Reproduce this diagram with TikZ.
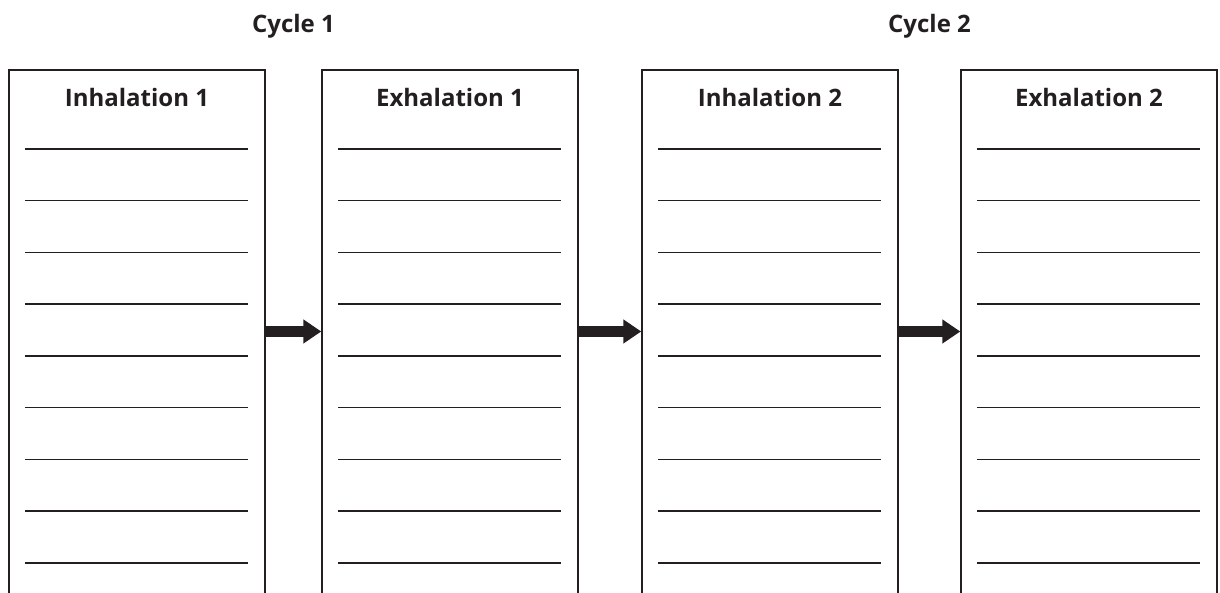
\documentclass[tikz,border=0pt]{standalone}
\usepackage{fontspec}
\setmainfont{Open Sans}
\usetikzlibrary{shapes,arrows,arrows.meta,positioning,calc}

\definecolor{ink}{HTML}{231F20}

\tikzset{
  phase/.style={rectangle,minimum width=256pt,minimum height=523pt,inner sep=0pt},
  phasetitle/.style={font=\fontsize{24}{28}\selectfont\bfseries,text=ink},
  fat/.style={-{Triangle[length=18pt,width=23pt]},line width=11pt,ink,shorten >=0.5pt}
}

\begin{document}
\begin{tikzpicture}[x=1pt,y=1pt]
    \useasboundingbox (0,0) rectangle (1220,593);

    \node[phase] (in1) at (137,261.5) {};
    \node[phase] (ex1) at (450,261.5) {};
    \node[phase] (in2) at (770,261.5) {};
    \node[phase] (ex2) at (1089,261.5) {};

    % open boxes, the bottom runs off the page
    \foreach \b/\t in {in1/Inhalation 1,ex1/Exhalation 1,in2/Inhalation 2,ex2/Exhalation 2} {
        \draw[ink,line width=1.5pt] (\b.south west) |- (\b.north east) -- (\b.south east);
        \node[phasetitle] at ($(\b.north)+(0,-28)$) {\t};
        \foreach \i in {0,...,8}
            \draw[ink,line width=1.5pt] ($(\b.north west)+(16,-79-51.75*\i)$) -- ($(\b.north east)+(-17,-79-51.75*\i)$);
    }

    \draw[fat] (in1) -- (ex1);
    \draw[fat] (ex1) -- (in2);
    \draw[fat] (in2) -- (ex2);

    \node[phasetitle] (c1) at ($($(in1.north east)!0.5!(ex1.north west)$)+(0,44)$) {Cycle 1};
    \node[phasetitle] (c2) at ($($(in2.north east)!0.5!(ex2.north west)$)+(0,44)$) {Cycle 2};
\end{tikzpicture}
\end{document}
